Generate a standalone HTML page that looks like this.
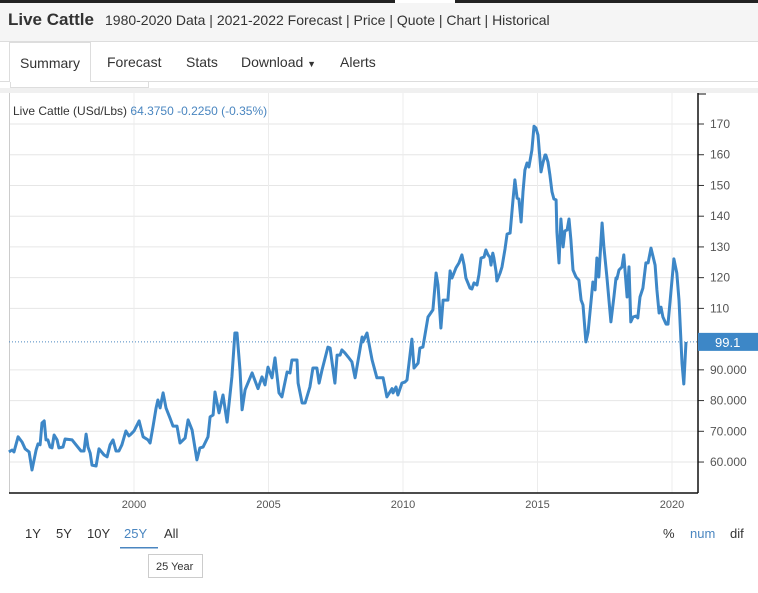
<!DOCTYPE html>
<html><head><meta charset="utf-8"><style>
body{margin:0;width:758px;height:593px;overflow:hidden;background:#fff;font-family:"Liberation Sans",Arial,sans-serif;position:relative}
.abs{position:absolute}
#topbar{left:0;top:0;width:758px;height:3px;background:#222}
#topgap{left:395px;top:0;width:60px;height:3px;background:#fff}
#header{left:0;top:3px;width:758px;height:38px;background:#f5f5f5;border-bottom:1px solid #ddd}
#title{left:8px;top:10px;font-size:17px;font-weight:bold;color:#333}
#subtitle{left:105px;top:12px;font-size:14px;color:#333}
#tabline{left:0;top:81px;width:758px;height:1px;background:#ddd}
.tab{top:54px;font-size:14px;color:#333}
#tab-summary{left:9px;top:42px;width:82px;height:40px;border:1px solid #ddd;border-bottom:none;background:#fff;box-sizing:border-box;text-align:center;line-height:40px;font-size:14px;color:#333}
#subbox{left:10px;top:82px;width:137px;height:5px;border:1px solid #ddd;border-top:none}
#chartband{left:0;top:88px;width:758px;height:5px;background:#f0f0f0}
svg{position:absolute;left:0;top:0}
</style></head><body>
<div class="abs" id="topbar"></div>
<div class="abs" id="topgap"></div>
<div class="abs" id="header"></div>
<div class="abs" id="title">Live Cattle</div>
<div class="abs" id="subtitle">1980-2020 Data | 2021-2022 Forecast | Price | Quote | Chart | Historical</div>
<div class="abs" id="tabline"></div>
<div class="abs" id="tab-summary">Summary</div>
<div class="abs tab" style="left:107px">Forecast</div>
<div class="abs tab" style="left:186px">Stats</div>
<div class="abs tab" style="left:241px">Download <span style="font-size:9px">&#9660;</span></div>
<div class="abs tab" style="left:340px">Alerts</div>
<div class="abs" id="subbox"></div>
<div class="abs" id="chartband"></div>

<svg id="chart" width="758" height="593">
<g id="grid"></g>
<g id="axes"></g>
<g id="series"></g>
<text x="13" y="115" font-size="12" fill="#333">Live Cattle (USd/Lbs) <tspan fill="#4a86c0">64.3750  -0.2250 (-0.35%)</tspan></text>
<g font-size="13" fill="#333">
<text x="25" y="538">1Y</text>
<text x="56" y="538">5Y</text>
<text x="87" y="538">10Y</text>
<text x="124" y="538" fill="#4a86c0">25Y</text>
<rect x="120" y="547" width="38" height="1.5" fill="#4a86c0"/>
<text x="164" y="538">All</text>
<text x="663" y="538">%</text>
<text x="690" y="538" fill="#4a86c0">num</text>
<text x="730" y="538">dif</text>
</g>
<g>
<rect x="148.5" y="554.5" width="54" height="23" fill="#fff" stroke="#ccc"/>
<text x="156" y="570" font-size="11" fill="#333">25 Year</text>
</g>
</svg>
<script>
const dates=[1995.35,1995.47,1995.54,1995.69,1995.84,1995.95,1996.10,1996.21,1996.36,1996.43,1996.51,1996.58,1996.66,1996.73,1996.80,1996.88,1996.95,1997.03,1997.14,1997.21,1997.36,1997.44,1997.70,1997.88,1998.03,1998.14,1998.22,1998.29,1998.37,1998.44,1998.59,1998.70,1998.89,1999.00,1999.11,1999.22,1999.33,1999.44,1999.55,1999.70,1999.81,1999.89,2000.00,2000.19,2000.34,2000.52,2000.60,2000.71,2000.82,2000.89,2000.97,2001.08,2001.19,2001.34,2001.45,2001.60,2001.71,2001.90,2002.01,2002.16,2002.34,2002.45,2002.57,2002.75,2002.83,2002.94,2003.01,2003.16,2003.31,2003.46,2003.64,2003.75,2003.83,2003.94,2004.02,2004.13,2004.39,2004.61,2004.76,2004.87,2004.98,2005.13,2005.24,2005.39,2005.50,2005.69,2005.80,2005.87,2006.06,2006.10,2006.25,2006.36,2006.54,2006.65,2006.80,2006.88,2006.99,2007.21,2007.29,2007.47,2007.55,2007.66,2007.73,2007.84,2007.96,2008.10,2008.22,2008.48,2008.51,2008.66,2008.85,2009.03,2009.26,2009.40,2009.59,2009.63,2009.74,2009.81,2009.96,2010.07,2010.15,2010.33,2010.41,2010.56,2010.63,2010.74,2010.93,2011.11,2011.23,2011.30,2011.41,2011.49,2011.67,2011.75,2011.82,2011.97,2012.08,2012.19,2012.27,2012.34,2012.49,2012.56,2012.64,2012.75,2012.82,2012.90,2013.01,2013.08,2013.16,2013.23,2013.27,2013.34,2013.38,2013.46,2013.49,2013.61,2013.68,2013.79,2013.87,2013.98,2014.09,2014.16,2014.24,2014.31,2014.39,2014.46,2014.53,2014.61,2014.68,2014.79,2014.87,2014.94,2015.02,2015.13,2015.20,2015.28,2015.31,2015.39,2015.46,2015.54,2015.61,2015.69,2015.72,2015.80,2015.87,2015.95,2016.02,2016.10,2016.17,2016.24,2016.32,2016.43,2016.54,2016.62,2016.69,2016.80,2016.88,2017.06,2017.14,2017.21,2017.28,2017.40,2017.47,2017.58,2017.73,2017.84,2017.92,2017.95,2018.03,2018.14,2018.21,2018.33,2018.40,2018.47,2018.55,2018.66,2018.73,2018.81,2018.92,2019.03,2019.11,2019.22,2019.37,2019.44,2019.52,2019.59,2019.66,2019.78,2019.85,2020.00,2020.07,2020.18,2020.26,2020.37,2020.44,2020.52];
const prices=[63.3,63.9,63.3,68.2,66.5,64.3,63.3,57.4,63.9,65.9,65.6,72.7,73.4,67.2,67.2,64.9,64.6,68.8,67.2,64.6,64.9,67.5,67.2,65.2,63.6,63.6,69.1,64.9,62.9,59.0,58.7,64.3,62.3,61.7,65.6,67.2,63.6,63.6,65.6,70.1,68.5,69.1,70.1,73.4,68.2,67.2,66.2,71.7,77.6,80.2,77.6,82.5,77.6,74.3,71.7,71.7,66.2,67.8,73.7,70.4,60.7,64.6,64.9,68.2,74.7,75.3,82.8,76.0,81.8,73.0,87.7,102.0,102.0,89.9,77.0,83.5,89.0,83.9,87.7,85.1,90.9,87.4,93.9,82.5,81.2,89.3,89.0,93.2,93.2,85.7,79.2,79.2,84.4,90.6,90.6,85.7,89.9,97.4,97.1,85.7,94.8,94.8,96.5,95.5,94.2,92.6,87.4,100.7,99.1,102.0,93.2,87.4,87.4,81.2,83.9,82.5,84.4,81.8,85.7,86.0,86.7,100.0,90.6,92.2,97.1,97.4,107.2,109.5,121.5,117.6,103.6,112.7,112.7,122.2,119.9,123.2,124.8,127.4,124.1,119.9,116.6,116.3,118.3,117.6,120.9,126.4,126.7,129.0,127.4,126.7,124.1,128.0,126.4,121.9,118.9,121.5,123.5,129.3,134.2,134.5,145.3,151.8,145.9,145.6,138.1,147.9,155.0,157.3,156.0,161.5,169.3,168.7,166.4,154.4,157.3,159.9,159.9,157.6,153.4,147.9,145.6,145.3,134.9,124.8,139.1,130.0,135.2,135.5,139.1,132.3,122.5,120.2,119.2,112.7,111.1,99.1,102.3,118.6,116.0,126.4,120.2,137.8,130.0,120.2,105.6,113.7,119.9,119.6,122.5,123.5,127.4,113.7,123.5,105.6,107.2,107.5,106.9,113.7,116.6,124.8,124.8,129.6,124.1,116.0,108.5,110.4,107.2,104.9,104.9,119.2,126.1,121.5,112.7,92.2,85.4,99.1];
const yTicks=[60,70,80,90,100,110,120,130,140,150,160,170];
const yTickLabels=["60.000","70.000","80.000","90.000","","110","120","130","140","150","160","170"];
const xTicks=[2000,2005,2010,2015,2020];
const lastPrice=99.1;

const L=9,R=698,T=93,B=493;
const X=t=>134+(t-2000)*26.9;
const Y=v=>124+(170-v)*3.073;
const NS="http://www.w3.org/2000/svg";
function mk(tag,attrs,parent){const e=document.createElementNS(NS,tag);for(const k in attrs)e.setAttribute(k,attrs[k]);parent.appendChild(e);return e;}
const grid=document.getElementById('grid'),axes=document.getElementById('axes'),series=document.getElementById('series');
mk('rect',{x:L,y:T,width:R-L,height:B-T,fill:'#fff'},grid);
yTicks.forEach((v,i)=>{
  if(v===100)return;
  const g=mk('line',{x1:L,x2:R,y1:Y(v),y2:Y(v),stroke:'#e6e6e6','stroke-width':1},grid);
  
  
  const tk=mk('line',{x1:R,x2:R+6,y1:Y(v),y2:Y(v),stroke:'#333'},axes);
  
  
  const tx=mk('text',{x:R+12,y:Y(v)+4,'font-size':12,fill:'#555'},axes);
  tx.textContent=yTickLabels[i];
  
  
});
xTicks.forEach(t=>{
  const g=mk('line',{x1:X(t),x2:X(t),y1:T,y2:B,stroke:'#ececec'},grid);
  
  
  const tx=mk('text',{x:X(t),y:508,'font-size':11,fill:'#555','text-anchor':'middle'},axes);
  tx.textContent=t;
  
  
});
const lb=mk('line',{x1:L+0.5,x2:L+0.5,y1:T,y2:B,stroke:'#ccc'},axes);


const xa=mk('line',{x1:L,x2:R,y1:B,y2:B,stroke:'#111','stroke-width':1.5},axes);


const ya=mk('line',{x1:R,x2:R,y1:T,y2:B,stroke:'#111','stroke-width':1.5},axes);


const tt=mk('line',{x1:R,x2:R+8,y1:T+1,y2:T+1,stroke:'#111'},axes);


const dl=mk('line',{x1:L,x2:R,y1:Y(lastPrice),y2:Y(lastPrice),stroke:'#4a86c0','stroke-dasharray':'1,2'},series);


const d=dates.map((t,i)=>(i?'L':'M')+X(t).toFixed(1)+','+Y(prices[i]).toFixed(1)).join('');
const p=mk('path',{d:d,fill:'none',stroke:'#3d87c7','stroke-width':3,'stroke-linejoin':'round'},series);


const lbx=mk('rect',{x:R,y:Y(lastPrice)-9,width:60,height:18,fill:'#3d87c7'},series);


const lt=mk('text',{x:R+17,y:Y(lastPrice)+5,'font-size':13,fill:'#fff'},series);
lt.textContent=lastPrice.toFixed(1);


</script>
</body></html>
